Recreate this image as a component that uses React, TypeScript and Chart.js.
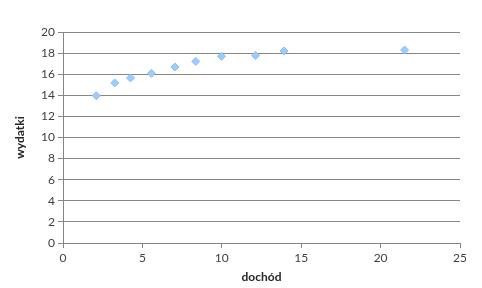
import React, { useEffect, useRef } from "react";
import { Chart, registerables } from "chart.js";

Chart.register(...registerables);

const incomeX = [2.1, 3.26, 4.25, 5.57, 7.05, 8.36, 9.98, 12.12, 13.92, 21.51];
const spendingY = [13.96, 15.17, 15.64, 16.08, 16.68, 17.21, 17.69, 17.78, 18.2, 18.29];
const xTitle = "dochód";
const yTitle = "wydatki";

export default function App() {
  const ref = useRef<HTMLCanvasElement | null>(null);
  useEffect(() => {
    document.body.style.margin = "0";
    const ctx = ref.current!;
    const chart = new Chart(ctx, {
      type: "scatter",
      data: {
        datasets: [
          {
            data: incomeX.map((x, i) => ({ x, y: spendingY[i] })),
            pointStyle: "rectRot",
            pointRadius: 4,
            backgroundColor: "#9ccbff",
            borderColor: "#8bbef5",
            borderWidth: 1,
          },
        ],
      },
      options: {
        responsive: false,
        animation: false,
        layout: { padding: { left: 0, right: 22, top: 32, bottom: 0 } },
        plugins: { legend: { display: false }, tooltip: { enabled: false } },
        scales: {
          x: {
            type: "linear",
            min: 0,
            max: 25,
            ticks: { stepSize: 5, color: "#404040", font: { family: "Lato", size: 12 }, padding: 3 },
            grid: { drawOnChartArea: false, drawTicks: true, tickLength: 5, color: "#868686" },
            border: { color: "#868686", width: 1 },
            title: { display: true, text: xTitle, color: "#262626", font: { family: "Lato", size: 12, weight: "bold" }, padding: { top: 2, bottom: 4 } },
            afterFit: (s: any) => { s.height = 45; },
          },
          y: {
            min: 0,
            max: 20,
            ticks: { stepSize: 2, color: "#404040", font: { family: "Lato", size: 12 }, padding: 3 },
            grid: { color: "#868686", lineWidth: 1, drawTicks: true, tickLength: 5 },
            border: { color: "#868686", width: 1 },
            title: { display: true, text: yTitle, color: "#262626", font: { family: "Lato", size: 12, weight: "bold" }, padding: { top: 13, bottom: 6 } },
            afterFit: (s: any) => { s.width = 63; },
          },
        },
      },
    });
    return () => chart.destroy();
  }, []);
  return (
    <div style={{ position: "absolute", left: 0, top: 0, width: 482, height: 288, background: "#fff" }}>
      <canvas ref={ref} width={482} height={288} />
    </div>
  );
}
